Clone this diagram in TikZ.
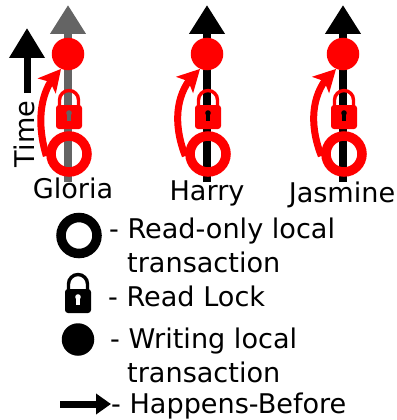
\documentclass[tikz,border=0pt]{standalone}
\usepackage{fontspec}
\setmainfont{DejaVu Sans}
\usetikzlibrary{arrows.meta,bending}
\definecolor{greyline}{RGB}{100,100,100}
\tikzset{
  x=1pt,y=-1pt,
  timeline/.style={line width=7.5pt,-{Triangle[length=29pt,width=34pt]}},
  writedisk/.style={circle,fill=#1,inner sep=0pt,minimum size=32.5pt},
  readring/.style={circle,draw=#1,line width=9.5pt,inner sep=0pt,minimum size=36pt},
  hb/.style={red,line width=7pt,-{Stealth[length=22pt,width=23pt,inset=5pt,flex=0.9]}},
  lbl/.style={font=\fontsize{27.1}{27.1}\selectfont,inner sep=0pt,anchor=base},
  lgd/.style={lbl,anchor=base west},
  lockicon/.pic={
    \draw[line width=3.4pt,draw=\lockcol] (-9.5,-8) -- (-9.5,-14) arc[start angle=180,end angle=360,radius=9.5] -- (9.5,-8);
    \fill[\lockcol,rounded corners=3pt] (-13,-9) -- (13,-9) -- (13,15) -- (-13,15) -- cycle;
    \fill[\holecol] (0,-1) circle[radius=2.8];
    \fill[\holecol] (-1.6,0) -- (1.6,0) -- (1.6,7) -- (-1.6,7) -- cycle;
  }
}
\newcommand{\lockcol}{red}
\newcommand{\holecol}{black}
\newcommand{\thread}[5]{% x, label, label x, label baseline, line colour
  \coordinate (#2b) at (#1,182);
  \coordinate (#2t) at (#1,5);
  \draw[timeline,draw=#5,color=#5] (#2b) -- (#2t);
  \node[writedisk=red] (#2w) at (#1,54) {};
  \pic at (#1+1,114) {lockicon};
  \node[readring=red] (#2r) at (#1+1,154) {};
  \node[lbl] (#2n) at (#3,#4) {#2};
}
\begin{document}
\begin{tikzpicture}
\useasboundingbox (0,0) rectangle (396,420);
% threads
\renewcommand{\holecol}{greyline}
\thread{68}{Gloria}{73}{198}{greyline}
\renewcommand{\holecol}{black}
\thread{207}{Harry}{207}{200}{black}
\thread{343}{Jasmine}{342}{202}{black}
\draw[hb] (Gloriar.185) .. controls (37,125) and (38,90) .. (Gloriaw.245);
\draw[hb] (Harryr.185) .. controls (173,125) and (174,90) .. (Harryw.245);
\draw[hb] (Jasminer.185) .. controls (309,125) and (310,90) .. (Jasminew.245);
% time
\coordinate (timeb) at (27,93);
\coordinate (timet) at (27,28);
\draw[line width=7pt,-{Triangle[length=30pt,width=34pt]}] (timeb) -- (timet);
\node[font=\fontsize{27.1}{27.1}\selectfont,rotate=90,inner sep=0pt,anchor=base] (timel) at (34,134) {Time};
% legend
\node[readring=black] (lr) at (79,235.5) {};
\node[lgd] (lrt) at (109,238) {- Read-only local};
\node[lgd] (lrt2) at (127,272) {transaction};
\renewcommand{\lockcol}{black}
\renewcommand{\holecol}{white}
\pic at (78,298) {lockicon};
\node[lgd] (llt) at (108,306) {- Read Lock};
\node[writedisk=black] (lw) at (78,339.5) {};
\node[lgd] (lwt) at (110,348) {- Writing local};
\node[lgd] (lwt2) at (127,382) {transaction};
\coordinate (la) at (60,404);
\node[lgd] (lht) at (111,413) {- Happens-Before};
\draw[line width=7pt,-{Triangle[length=15pt,width=20pt]}] (la) -- (lht.base west |- la);
\end{tikzpicture}
\end{document}
